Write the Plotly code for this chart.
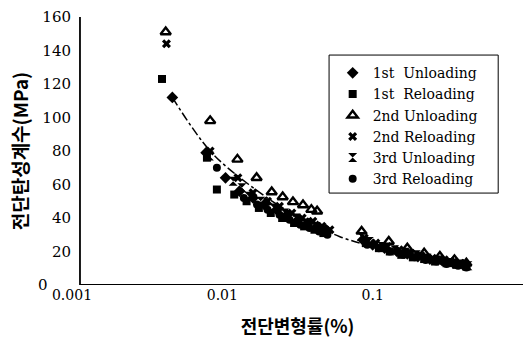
import plotly.graph_objects as go

# Shear modulus (MPa) against shear strain (%), per loading stage
u1_x = [0.00465, 0.0078, 0.0105, 0.013, 0.016, 0.019, 0.023, 0.027, 0.032, 0.037, 0.043, 0.049,
        0.086, 0.1, 0.12, 0.145, 0.17, 0.2, 0.24, 0.29, 0.34, 0.4]
u1_y = [112, 79, 64, 56, 52, 48, 45, 42, 39, 37, 35, 33,
        27, 24, 22, 20, 18.5, 17, 15.5, 14.5, 13.5, 12]

r1_x = [0.00397, 0.0079, 0.0092, 0.012, 0.0145, 0.0175, 0.021, 0.025, 0.03, 0.035, 0.041, 0.047,
        0.09, 0.11, 0.13, 0.155, 0.185, 0.22, 0.26, 0.31, 0.36, 0.42]
r1_y = [123, 76, 57, 54, 50, 46, 43, 40, 37, 35, 33, 31,
        25, 22, 20, 18, 16.5, 15.5, 14, 13, 12, 11]

u2_x = [0.0042, 0.0083, 0.0126, 0.0169, 0.0213, 0.0252, 0.0295, 0.0344, 0.0391, 0.0427,
        0.0844, 0.128, 0.17, 0.22, 0.28, 0.35, 0.42]
u2_y = [151, 98, 75, 64, 55.5, 52.5, 49.6, 47.8, 45, 44,
        32, 26, 22, 19, 17, 15, 13]

r2_x = [0.00425, 0.0083, 0.0127, 0.016, 0.02, 0.024, 0.029, 0.034, 0.04, 0.046, 0.052,
        0.088, 0.105, 0.125, 0.15, 0.18, 0.21, 0.25, 0.3, 0.35, 0.41]
r2_y = [144, 80, 64, 55, 50, 47, 43, 40, 38, 35, 33,
        28, 25, 23, 21, 19, 17.5, 16, 15, 14, 13]

u3_x = [0.0082, 0.0118, 0.0135, 0.015, 0.018, 0.022, 0.026, 0.031, 0.036, 0.042, 0.048,
        0.084, 0.095, 0.115, 0.14, 0.165, 0.195, 0.23, 0.27, 0.32, 0.38, 0.43]
u3_y = [77, 62, 58, 53, 50, 46, 43, 40, 37, 35, 32,
        29, 26, 23, 21, 19.5, 18, 16, 15, 13.5, 12.5, 11.5]

r3_x = [0.0092, 0.0139, 0.017, 0.02, 0.024, 0.028, 0.033, 0.038, 0.044, 0.05,
        0.092, 0.11, 0.13, 0.16, 0.19, 0.225, 0.265, 0.31, 0.37, 0.42]
r3_y = [70, 52, 48, 45, 42, 39, 36, 34, 32, 30,
        24, 22, 20, 18, 16.5, 15, 14, 12.5, 11.5, 10.5]

# Trend curve through the data
fit_x = [0.00465, 0.0083, 0.015, 0.03, 0.06, 0.1, 0.2, 0.42]
fit_y = [112, 80, 60, 42, 29, 23, 16, 11]

x_ticks = [0.001, 0.01, 0.1, 1]
x_tick_text = ["0.001", "0.01", "0.1", "1"]
y_ticks = [0, 20, 40, 60, 80, 100, 120, 140, 160]
y_tick_text = ["", "20", "40", "60", "80", "100", "120", "140", "160"]

NB = "\u00a0"
series = [
    ("1st" + NB + NB + "Unloading", u1_x, u1_y, dict(symbol="diamond", size=9)),
    ("1st" + NB + NB + "Reloading", r1_x, r1_y, dict(symbol="square", size=8)),
    ("2nd Unloading", u2_x, u2_y, dict(symbol="triangle-up-open", size=9, line=dict(width=2.4, color="black"))),
    ("2nd Reloading", r2_x, r2_y, dict(symbol="x", size=8)),
    ("3rd Unloading", u3_x, u3_y, dict(symbol="hourglass", size=9)),
    ("3rd Reloading", r3_x, r3_y, dict(symbol="circle", size=8)),
]

fig = go.Figure()
fig.add_trace(go.Scatter(x=fit_x, y=fit_y, mode="lines", showlegend=False,
                         line=dict(color="black", width=1.5, dash="dashdot", shape="spline")))
for name, xs, ys, mk in series:
    marker = dict(color="black")
    marker.update(mk)
    fig.add_trace(go.Scatter(x=xs, y=ys, mode="markers", name=name, marker=marker))

# Axis lines start a little right of the 0.001 label
x_left = 0.00113
fig.add_shape(type="line", xref="x", yref="y", x0=x_left, x1=x_left, y0=0, y1=160,
              line=dict(color="black", width=1.8))
fig.add_shape(type="line", xref="x", yref="y", x0=x_left, x1=1, y0=0, y1=0,
              line=dict(color="black", width=1.8))

# Frame around the legend, a little wider than the entries
fig.add_shape(type="rect", xref="paper", yref="paper", x0=0.570, x1=0.945, y0=0.343, y1=0.858,
              line=dict(color="black", width=1), fillcolor="white", layer="above")

serif = "DejaVu Serif"
korean = "Noto Sans CJK KR"

# The zero label sits further left, clear of the 0.001 label below it
fig.add_annotation(text="0", xref="paper", yref="y", x=-0.048, y=0, xanchor="right",
                   yanchor="middle", showarrow=False, font=dict(family=serif, size=15))

fig.update_layout(
    width=525, height=347,
    margin=dict(l=72, r=2, t=17, b=62),
    paper_bgcolor="white", plot_bgcolor="white",
    font=dict(family=serif, size=14, color="black"),
    xaxis=dict(type="log", range=[-3, 0], tickvals=x_ticks, ticktext=x_tick_text,
               showgrid=False, zeroline=False, showline=False, ticks="",
               tickfont=dict(family=serif, size=14),
               title=dict(text="<b>전단변형률(%)</b>", font=dict(family=korean, size=18), standoff=18)),
    yaxis=dict(range=[0, 160], tickvals=y_ticks, ticktext=y_tick_text, showgrid=False,
               zeroline=False, showline=False, ticks="", tickfont=dict(family=serif, size=15),
               title=dict(text="<b>전단탄성계수(MPa)</b>", font=dict(family=korean, size=19), standoff=8)),
    legend=dict(x=0.578, y=0.85, xanchor="left", yanchor="top",
                bgcolor="rgba(0,0,0,0)", borderwidth=0,
                font=dict(family=serif, size=14), itemwidth=30, tracegroupgap=0),
)

fig.write_html("out.html")
